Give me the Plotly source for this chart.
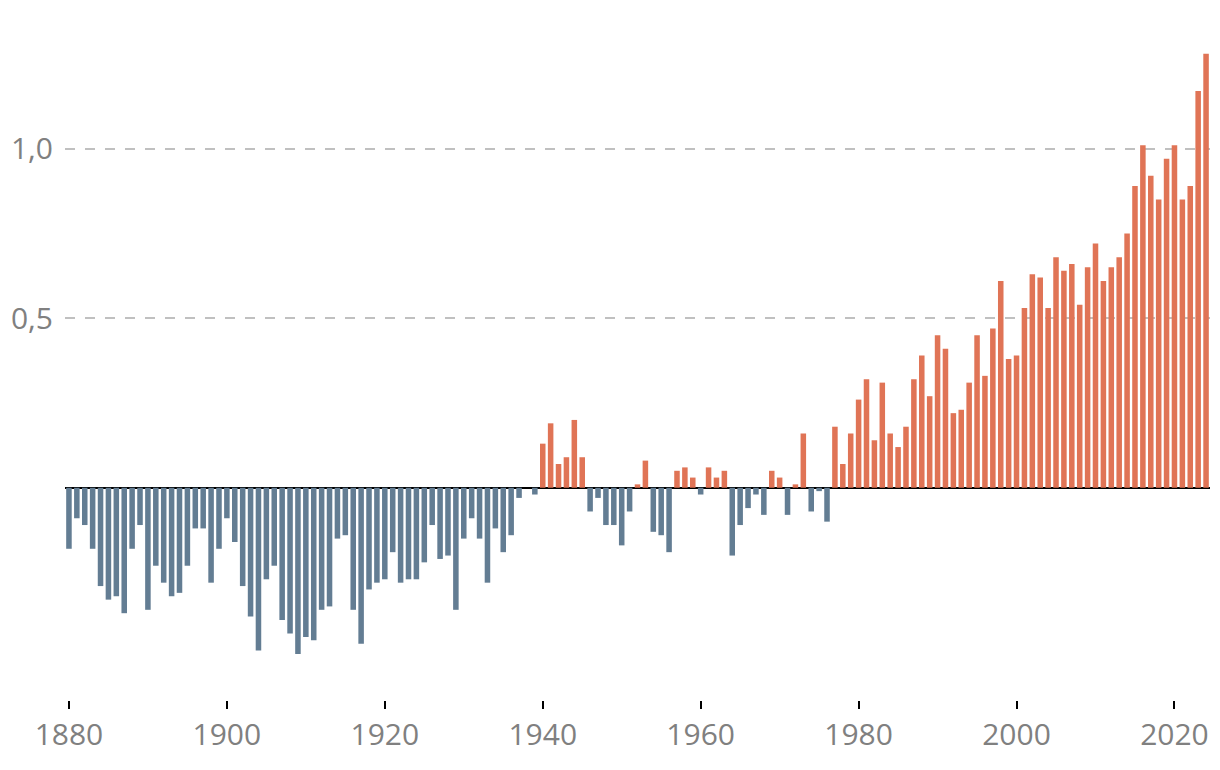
import plotly.graph_objects as go

years = list(range(1880, 2025))
anomaly = [
    -0.18, -0.09, -0.11, -0.18, -0.29, -0.33, -0.32, -0.37, -0.18, -0.11,  # 1880s
    -0.36, -0.23, -0.28, -0.32, -0.31, -0.23, -0.12, -0.12, -0.28, -0.18,  # 1890s
    -0.09, -0.16, -0.29, -0.38, -0.48, -0.27, -0.23, -0.39, -0.43, -0.49,  # 1900s
    -0.44, -0.45, -0.36, -0.35, -0.15, -0.14, -0.36, -0.46, -0.30, -0.28,  # 1910s
    -0.27, -0.19, -0.28, -0.27, -0.27, -0.22, -0.11, -0.21, -0.20, -0.36,  # 1920s
    -0.15, -0.09, -0.15, -0.28, -0.12, -0.19, -0.14, -0.03, 0.00, -0.02,   # 1930s
    0.13, 0.19, 0.07, 0.09, 0.20, 0.09, -0.07, -0.03, -0.11, -0.11,        # 1940s
    -0.17, -0.07, 0.01, 0.08, -0.13, -0.14, -0.19, 0.05, 0.06, 0.03,       # 1950s
    -0.02, 0.06, 0.03, 0.05, -0.20, -0.11, -0.06, -0.02, -0.08, 0.05,      # 1960s
    0.03, -0.08, 0.01, 0.16, -0.07, -0.01, -0.10, 0.18, 0.07, 0.16,        # 1970s
    0.26, 0.32, 0.14, 0.31, 0.16, 0.12, 0.18, 0.32, 0.39, 0.27,            # 1980s
    0.45, 0.41, 0.22, 0.23, 0.31, 0.45, 0.33, 0.47, 0.61, 0.38,            # 1990s
    0.39, 0.53, 0.63, 0.62, 0.53, 0.68, 0.64, 0.66, 0.54, 0.65,            # 2000s
    0.72, 0.61, 0.65, 0.68, 0.75, 0.89, 1.01, 0.92, 0.85, 0.97,            # 2010s
    1.01, 0.85, 0.89, 1.17, 1.28,                                          # 2020s
]

x_tickvals = [1880, 1900, 1920, 1940, 1960, 1980, 2000, 2020]
x_ticktext = ["1880", "1900", "1920", "1940", "1960", "1980", "2000", "2020"]
y_tickvals = [0.5, 1.0]
y_ticktext = ["0,5", "1,0"]

WARM = "#E07456"
COOL = "#637D93"
colors = [WARM if v > 0 else COOL for v in anomaly]

fig = go.Figure(
    go.Bar(
        x=years,
        y=anomaly,
        marker=dict(color=colors, line=dict(width=0)),
        hoverinfo="x+y",
    )
)

font_family = "Open Sans, Noto Sans, sans-serif"
tick_font = dict(family=font_family, size=30, color="#808080")

fig.update_layout(
    width=1212,
    height=762,
    margin=dict(l=57, r=10, t=22, b=70, autoexpand=False),
    paper_bgcolor="white",
    plot_bgcolor="white",
    bargap=0.3,
    showlegend=False,
    font=tick_font,
    xaxis=dict(
        range=[1879.5, 2024.5],
        tickvals=x_tickvals,
        ticktext=x_ticktext,
        ticks="outside",
        ticklen=8,
        tickwidth=1.5,
        tickcolor="black",
        showgrid=False,
        showline=False,
        zeroline=False,
        automargin=False,
        tickfont=tick_font,
    ),
    yaxis=dict(
        range=[-0.626, 1.35],
        tickvals=y_tickvals,
        ticktext=y_ticktext,
        ticks="",
        showgrid=True,
        gridcolor="#C0C0C0",
        gridwidth=1.5,
        griddash="10px,10px",
        showline=False,
        zeroline=True,
        zerolinecolor="black",
        zerolinewidth=2,
        ticklabelstandoff=11,
        automargin=False,
        tickfont=tick_font,
    ),
)

fig.write_html("out.html")
